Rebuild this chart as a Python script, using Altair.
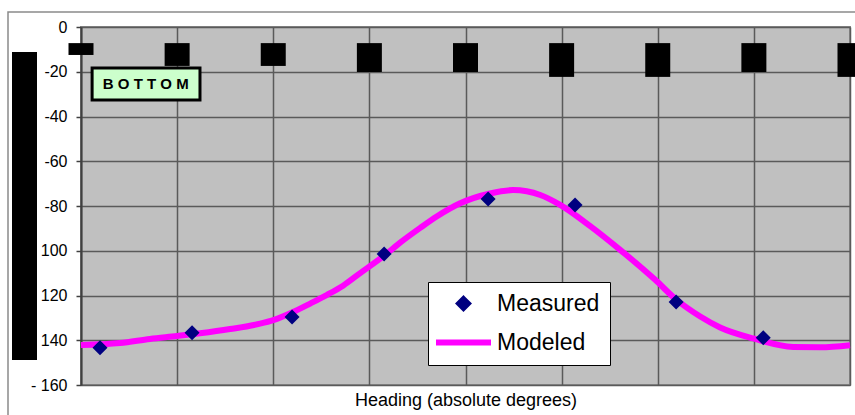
import altair as alt
import pandas as pd

# ---------------- data ----------------
series_names = ["Measured", "Modeled"]

model_heading = [0, 18.3, 32.3, 45, 55.7, 69.8, 83.8, 90, 98.8, 107.3, 115.2, 122.7,
                 130.7, 141.9, 149.4, 158.8, 166.7, 177.5, 191.5, 202.3, 215, 224.3,
                 238.4, 252.4, 268.8, 278.6, 289.9, 299.2, 314.7, 333.4, 346.1, 360]
model_value = [-142.1, -141.2, -139.4, -138.1, -136.9, -135.0, -132.6, -131.0, -127.6,
               -123.6, -119.7, -115.6, -110.0, -102.2, -96.4, -89.8, -84.6, -78.8,
               -74.4, -72.9, -75.1, -79.5, -89.0, -99.6, -113.0, -121.8, -129.4,
               -134.3, -139.2, -143.0, -143.1, -142.2]

meas_heading = [8.9, 52, 98.8, 141.9, 190.6, 231.3, 278.6, 319.4]
meas_value = [-143.4, -136.7, -129.6, -101.4, -76.9, -79.5, -122.9, -138.9]

block_heading = [0, 45, 90, 135, 180, 225, 270, 315, 360]
block_top = [-7.2, -7.2, -7.2, -7.2, -7.2, -7.2, -7.2, -7.2, -7.2]
block_bottom = [-12.5, -17.4, -17.4, -20.1, -20.1, -22.3, -22.3, -20.1, -22.3]

y_ticks = [0, -20, -40, -60, -80, -100, -120, -140, -160]
y_tick_labels = ["0", "-20", "-40", "-60", "-80", "100", "120", "140", "- 160"]
x_grid = [0, 45, 90, 135, 180, 225, 270, 315, 360]

label_text = ["B O T T O M"]
x_title = "Heading (absolute degrees)"

# ---------------- styling ----------------
NAVY = "#000080"
MAGENTA = "#ff00ff"
GRID = "#5a5a5a"
FONT = "Liberation Sans"

xscale = alt.Scale(domain=[0, 360], nice=False, zero=False, padding=0)
yscale = alt.Scale(domain=[-160, 0], nice=False, zero=False, padding=0)

label_expr = " : ".join(
    f"datum.value == {v} ? '{t}'" for v, t in zip(y_ticks, y_tick_labels)
) + " : ''"

model_df = pd.DataFrame({"heading": model_heading, "value": model_value})
meas_df = pd.DataFrame({"heading": meas_heading, "value": meas_value})
block_df = pd.DataFrame({"heading": block_heading, "top": block_top, "bottom": block_bottom})
one = pd.DataFrame({"a": [0]})

# outer frame
frame = alt.Chart(one).mark_rect(fillOpacity=0, stroke="#8a8a8a", strokeWidth=1.5).encode(
    x=alt.value(-73), x2=alt.value(820), y=alt.value(-15), y2=alt.value(430)
)

# black bar left of the axis
left_bar = alt.Chart(one).mark_rect(color="black").encode(
    x=alt.value(-69), x2=alt.value(-44), y=alt.value(25), y2=alt.value(333)
)

line = alt.Chart(model_df).mark_line(
    color=MAGENTA, strokeWidth=6, interpolate="monotone", strokeCap="butt"
).encode(
    x=alt.X("heading:Q", scale=xscale,
            axis=alt.Axis(values=x_grid, labels=False, ticks=False, domain=False,
                          grid=True, gridColor=GRID, gridWidth=1.5,
                          title=x_title, titleFont=FONT, titleFontSize=18,
                          titleFontWeight="normal", titleColor="black", titlePadding=6)),
    y=alt.Y("value:Q", scale=yscale,
            axis=alt.Axis(values=y_ticks, labelExpr=label_expr, grid=True,
                          gridColor=GRID, gridWidth=1.5, domainColor="#404040",
                          domainWidth=2, tickColor="#404040", tickSize=5, tickWidth=1.5,
                          labelFont=FONT, labelFontSize=16, labelColor="black",
                          labelPadding=9, title=None)),
)

points = alt.Chart(meas_df).mark_point(
    shape="diamond", filled=True, size=225, color=NAVY, opacity=1
).encode(x=alt.X("heading:Q", scale=xscale), y=alt.Y("value:Q", scale=yscale))

blocks = alt.Chart(block_df).mark_bar(color="black", width=25).encode(
    x=alt.X("heading:Q", scale=xscale),
    y=alt.Y("top:Q", scale=yscale),
    y2="bottom:Q",
)

# BOTTOM label box
box_df = pd.DataFrame({"x1": [5.2], "x2": [55.7], "y1": [-18.3], "y2": [-32.6],
                       "tx": [30.3], "ty": [-25.6], "t": label_text})
box = alt.Chart(box_df).mark_rect(fill="#ccffcc", stroke="black", strokeWidth=3).encode(
    x=alt.X("x1:Q", scale=xscale), x2="x2:Q",
    y=alt.Y("y1:Q", scale=yscale), y2="y2:Q",
)
box_text = alt.Chart(box_df).mark_text(
    font=FONT, fontSize=15, fontWeight="bold", color="black"
).encode(x=alt.X("tx:Q", scale=xscale), y=alt.Y("ty:Q", scale=yscale), text="t:N")

# legend (helper layer, clipped out of view)
legend_df = pd.DataFrame({"series": series_names, "heading": [-999, -999], "value": [-80, -80]})
leg = alt.Legend(
    title=None, orient="none", legendX=347, legendY=255,
    fillColor="white", strokeColor="black", padding=10,
    symbolSize=100, symbolStrokeWidth=6, symbolOffset=14,
    labelFont=FONT, labelFontSize=23, labelColor="black", labelOffset=22,
    labelLimit=400, rowPadding=10,
)
diamond_path = "M0,-0.85L0.85,0L0,0.85L-0.85,0Z"
line_path = "M-5.5,0H5.5"
legend_layer = alt.Chart(legend_df).mark_point(filled=True, clip=True, opacity=1).encode(
    x=alt.X("heading:Q", scale=xscale),
    y=alt.Y("value:Q", scale=yscale),
    color=alt.Color("series:N", scale=alt.Scale(domain=series_names, range=[NAVY, MAGENTA]), legend=leg),
    stroke=alt.Stroke("series:N", scale=alt.Scale(domain=series_names, range=[NAVY, MAGENTA]), legend=leg),
    shape=alt.Shape("series:N", scale=alt.Scale(domain=series_names, range=[diamond_path, line_path]), legend=leg),
)

chart = alt.layer(frame, left_bar, line, points, blocks, box, box_text, legend_layer).properties(
    width=769, height=358,
    padding={"left": 81, "top": 27, "right": 5, "bottom": 30},
    autosize=alt.AutoSizeParams(type="none"),
    background="white",
).configure_view(
    fill="#c0c0c0", stroke="#8a8a8a", strokeWidth=2
)

chart.save("out.html", embed_options={"renderer": "svg", "actions": False})
